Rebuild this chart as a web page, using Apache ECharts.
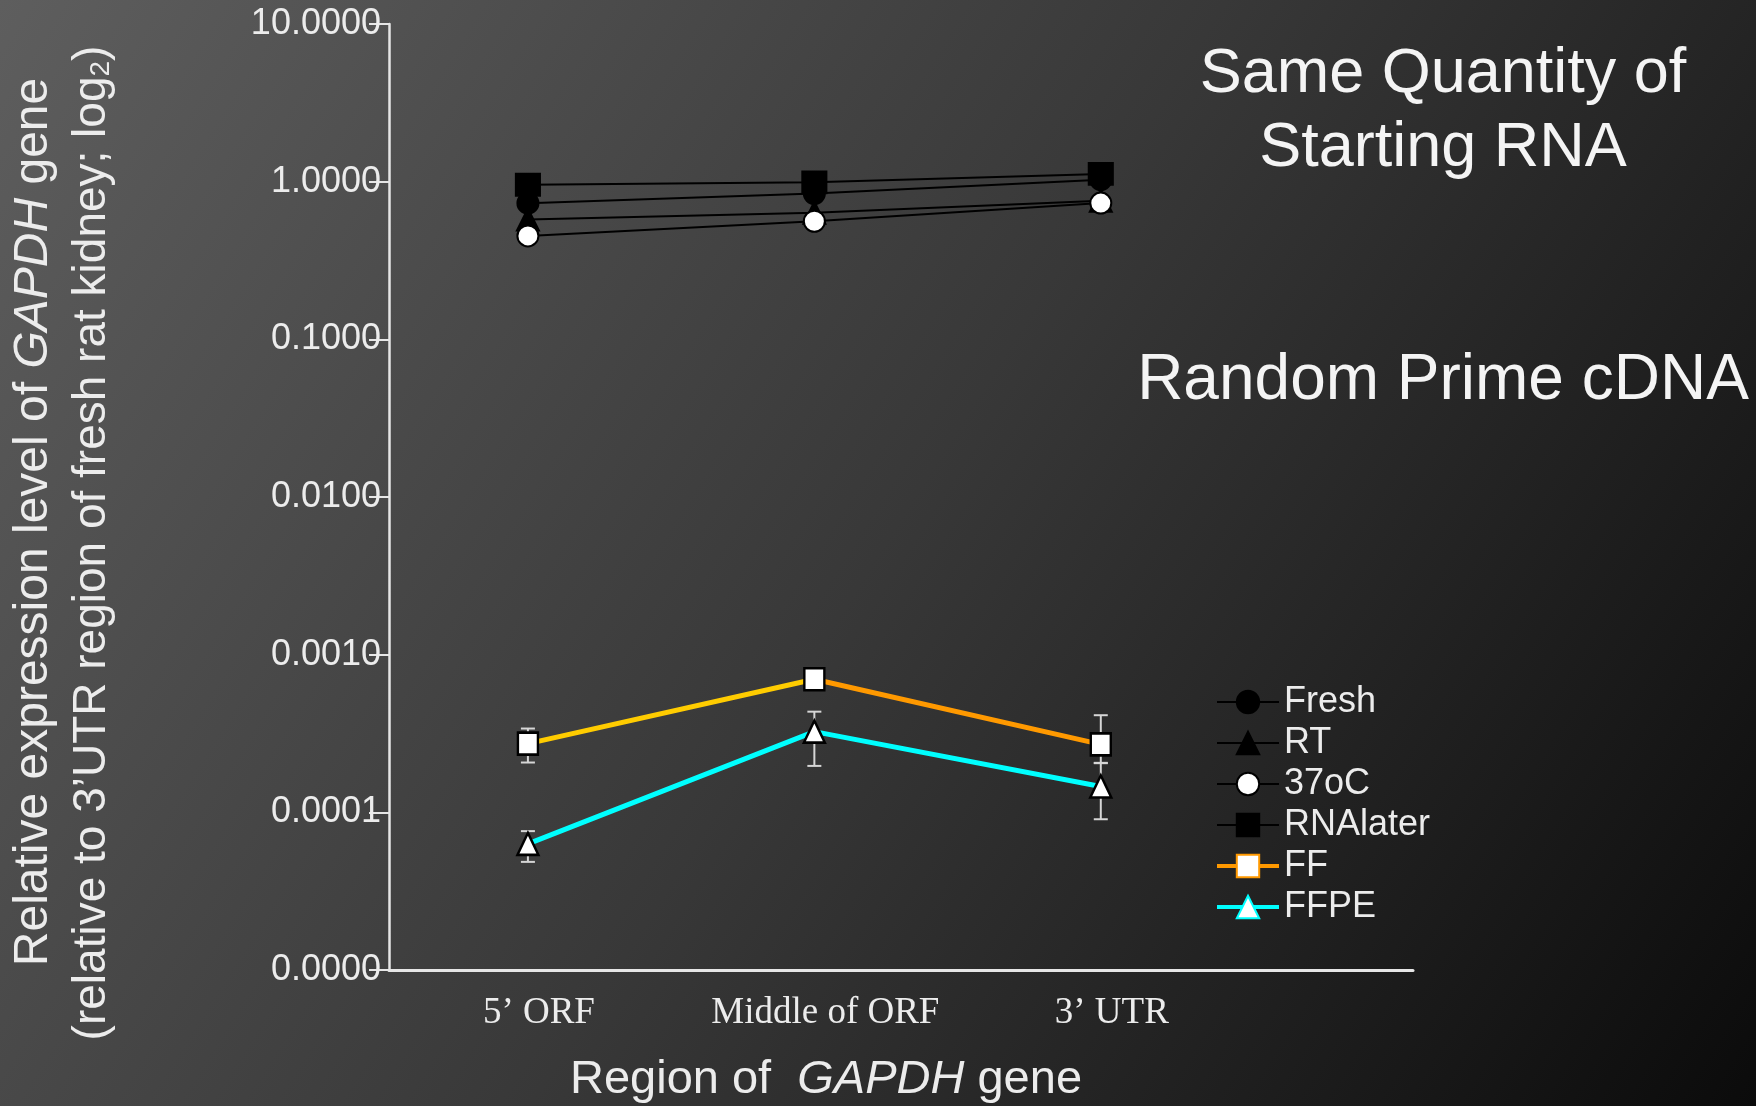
<!DOCTYPE html>
<html>
<head>
<meta charset="utf-8">
<script src="https://cdn.jsdelivr.net/npm/echarts@6/dist/echarts.min.js"></script>
<style>
  html, body { margin: 0; padding: 0; background: #333; }
  #chart { width: 1756px; height: 1106px; }
</style>
</head>
<body>
<div id="chart"></div>
<script>
// categories on the x axis
const categories = ['5’ ORF', 'Middle of ORF', '3’ UTR'];

// relative expression (log axis)
const fresh = [0.73, 0.84, 1.03];
const rt = [0.575, 0.636, 0.756];
const c37 = [0.453, 0.561, 0.731];
const rnaLater = [0.956, 0.99, 1.12];
const ff = [0.000273, 0.000699, 0.000270];
const ffLow = [0.000207, 0.00063, 0.000205];
const ffHigh = [0.00034, 0.00077, 0.000413];
const ffpe = [0.0000631, 0.000325, 0.000146];
const ffpeLow = [0.0000485, 0.000197, 0.0000904];
const ffpeHigh = [0.000076, 0.000435, 0.000206];

const yMin = 0.00001;
const yMax = 10;

const pts = vals => vals.map((v, i) => [i, v]);
const bars = (lo, hi) => lo.map((v, i) => [i, v, hi[i]]);

const chart = echarts.init(document.getElementById('chart'));

const txt = '#ececec';
const sans = 'Liberation Sans, Arial, sans-serif';

function errorBar(params, api) {
    const x = api.value(0);
    const lo = api.coord([x, api.value(1)]);
    const hi = api.coord([x, api.value(2)]);
    const w = 7;
    const st = { stroke: '#d6d6d6', lineWidth: 2 };
    return {
        type: 'group',
        children: [
            { type: 'line', shape: { x1: lo[0], y1: lo[1], x2: hi[0], y2: hi[1] }, style: st },
            { type: 'line', shape: { x1: lo[0] - w, y1: lo[1], x2: lo[0] + w, y2: lo[1] }, style: st },
            { type: 'line', shape: { x1: hi[0] - w, y1: hi[1], x2: hi[0] + w, y2: hi[1] }, style: st }
        ]
    };
}

const blackLine = (name, data, symbol, size, fill) => ({
    name: name,
    type: 'line',
    data: pts(data),
    symbol: symbol,
    symbolSize: size,
    z: 3,
    lineStyle: { color: '#000', width: 2 },
    itemStyle: { color: fill, borderColor: '#000', borderWidth: 2 }
});

chart.setOption({
    animation: false,
    backgroundColor: new echarts.graphic.LinearGradient(0, 0, 1, 1, [
        { offset: 0, color: '#5e5e5e' },
        { offset: 0.5, color: '#383838' },
        { offset: 1, color: '#0b0b0b' }
    ]),
    grid: { left: 389, right: 343, top: 24, bottom: 136 },
    xAxis: {
        type: 'value',
        min: -0.485,
        max: 3.09,
        axisLine: { show: true, onZero: false, lineStyle: { color: '#e6e6e6', width: 3 } },
        axisTick: { show: false },
        splitLine: { show: false },
        axisLabel: {
            customValues: [0, 1, 2],
            formatter: v => categories[Math.round(v)],
            color: txt,
            fontFamily: 'Liberation Serif, Times New Roman, serif',
            fontSize: 37,
            margin: 25,
            padding: [0, 0, 0, 22]
        }
    },
    yAxis: {
        type: 'log',
        logBase: 10,
        min: yMin,
        max: yMax,
        axisLine: { show: true, onZero: false, lineStyle: { color: '#e6e6e6', width: 2.5 } },
        axisTick: { show: true, length: 20, lineStyle: { color: '#e6e6e6', width: 2 } },
        splitLine: { show: false },
        axisLabel: {
            formatter: v => v.toFixed(4),
            color: txt,
            fontFamily: sans,
            fontSize: 36,
            margin: 8
        }
    },
    legend: {
        orient: 'vertical',
        left: 1215,
        top: 684,
        padding: 0,
        itemWidth: 62,
        itemHeight: 28,
        itemGap: 5,
        textStyle: { color: txt, fontFamily: sans, fontSize: 36, lineHeight: 36 },
        data: [
            'Fresh', 'RT', '37oC', 'RNAlater',
            { name: 'FF', itemStyle: { borderColor: '#ff9900' }, lineStyle: { color: '#ff9900', width: 4 } },
            { name: 'FFPE', itemStyle: { borderColor: '#00ffff' }, lineStyle: { color: '#00ffff', width: 4 } }
        ]
    },
    series: [
        {
            type: 'custom',
            renderItem: errorBar,
            data: bars(ffLow, ffHigh),
            encode: { x: 0, y: [1, 2] },
            z: 1
        },
        {
            type: 'custom',
            renderItem: errorBar,
            data: bars(ffpeLow, ffpeHigh),
            encode: { x: 0, y: [1, 2] },
            z: 1
        },
        blackLine('Fresh', fresh, 'circle', 21, '#000'),
        blackLine('RT', rt, 'triangle', 22, '#000'),
        blackLine('37oC', c37, 'circle', 21, '#fff'),
        blackLine('RNAlater', rnaLater, 'rect', [24, 22], '#000'),
        {
            name: 'FF',
            type: 'line',
            data: pts(ff),
            symbol: 'rect',
            symbolSize: [20, 22],
            z: 3,
            lineStyle: {
                width: 5,
                color: new echarts.graphic.LinearGradient(0, 0, 1, 0, [
                    { offset: 0, color: '#ffcc00' },
                    { offset: 0.5, color: '#ffcc00' },
                    { offset: 0.5, color: '#ff9900' },
                    { offset: 1, color: '#ff9900' }
                ])
            },
            itemStyle: { color: '#fff', borderColor: '#000', borderWidth: 2.5 }
        },
        {
            name: 'FFPE',
            type: 'line',
            data: pts(ffpe),
            symbol: 'triangle',
            symbolSize: [21, 22],
            z: 3,
            lineStyle: { width: 5, color: '#00ffff' },
            itemStyle: { color: '#fff', borderColor: '#000', borderWidth: 2.5 }
        }
    ],
    graphic: [
        {
            type: 'text', x: 34, y: 522, rotation: Math.PI / 2,
            style: {
                text: '{a|Relative expression level of }{i|GAPDH}{a| gene}',
                align: 'center', verticalAlign: 'middle',
                rich: {
                    a: { fill: txt, fontFamily: sans, fontSize: 48 },
                    i: { fill: txt, fontFamily: sans, fontSize: 48, fontStyle: 'italic' }
                }
            }
        },
        {
            type: 'text', x: 92, y: 543, rotation: Math.PI / 2,
            style: {
                text: '{a|(relative to 3’UTR region of fresh rat kidney; log}{s|2}{a|)}',
                align: 'center', verticalAlign: 'middle',
                rich: {
                    a: { fill: txt, fontFamily: sans, fontSize: 46 },
                    s: { fill: txt, fontFamily: sans, fontSize: 28, verticalAlign: 'bottom' }
                }
            }
        },
        {
            type: 'text', x: 826, y: 1080,
            style: {
                text: '{a|Region of  }{i|GAPDH}{a| gene}',
                align: 'center', verticalAlign: 'middle',
                rich: {
                    a: { fill: txt, fontFamily: sans, fontSize: 47 },
                    i: { fill: txt, fontFamily: sans, fontSize: 47, fontStyle: 'italic' }
                }
            }
        },
        {
            type: 'text', x: 1443, y: 75,
            style: { text: 'Same Quantity of', fill: '#f4f4f4', font: '63px ' + sans, align: 'center', verticalAlign: 'middle' }
        },
        {
            type: 'text', x: 1443, y: 149,
            style: { text: 'Starting RNA', fill: '#f4f4f4', font: '63px ' + sans, align: 'center', verticalAlign: 'middle' }
        },
        {
            type: 'text', x: 1443, y: 381,
            style: { text: 'Random Prime cDNA', fill: '#f4f4f4', font: '64px ' + sans, align: 'center', verticalAlign: 'middle' }
        }
    ]
});
</script>
</body>
</html>
